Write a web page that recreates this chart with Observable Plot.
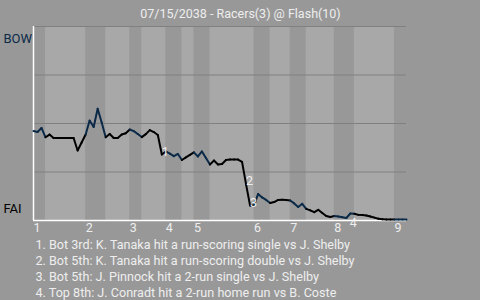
<!DOCTYPE html>
<html>
<head>
<meta charset="utf-8">
<script src="https://cdn.jsdelivr.net/npm/d3@7"></script>
<script src="https://cdn.jsdelivr.net/npm/@observablehq/plot@0.6"></script>
<style>
  html, body { margin: 0; padding: 0; background: #989898; }
  #chart { width: 480px; height: 300px; overflow: hidden; }
</style>
</head>
<body>
<div id="chart"></div>
<script>
// ---- Data ----
const title = "07/15/2038 - Racers(3) @ Flash(10)";
const awayCode = "BOW";
const homeCode = "FAI";
const innings = ["1", "2", "3", "4", "5", "6", "7", "8", "9"];
// plate-appearance index at which each half inning starts (top 1, bot 1, top 2, ...)
const halfStarts = [0, 3, 13, 18, 24, 27, 33, 37, 40, 44, 55, 59, 64, 68, 75, 80, 90];
const lastPA = 93;
// Racers (away) win probability after each plate appearance
const winProb = [
  0.461, 0.456, 0.477, 0.429, 0.443, 0.425, 0.425, 0.425, 0.425, 0.425,
  0.425, 0.361, 0.402, 0.443, 0.515, 0.482, 0.576, 0.505, 0.429, 0.446,
  0.425, 0.425, 0.443, 0.450, 0.469, 0.461, 0.446, 0.430, 0.445, 0.466,
  0.456, 0.441, 0.340, 0.356, 0.345, 0.332, 0.343, 0.312, 0.325, 0.338,
  0.351, 0.330, 0.356, 0.322, 0.289, 0.309, 0.289, 0.291, 0.312, 0.314,
  0.314, 0.314, 0.302, 0.186, 0.077, 0.077, 0.137, 0.119, 0.106, 0.090,
  0.095, 0.106, 0.107, 0.106, 0.103, 0.088, 0.070, 0.086, 0.060, 0.052,
  0.043, 0.055, 0.039, 0.023, 0.018, 0.023, 0.021, 0.017, 0.013, 0.036,
  0.035, 0.029, 0.028, 0.026, 0.021, 0.015, 0.009, 0.006, 0.005, 0.005,
  0.005, 0.005, 0.005, 0.005
];
// key plays: plate-appearance index after the play, and its label number
const keyPA = [32, 53, 54, 79];
const keyNum = ["1", "2", "3", "4"];
const keyText = [
  "1. Bot 3rd: K. Tanaka hit a run-scoring single vs J. Shelby",
  "2. Bot 5th: K. Tanaka hit a run-scoring double vs J. Shelby",
  "3. Bot 5th: J. Pinnock hit a 2-run single vs J. Shelby",
  "4. Top 8th: J. Conradt hit a 2-run home run vs B. Coste"
];
const gridValues = [0.25, 0.5, 0.75, 1];

// ---- Derived tables ----
const navy = "#0b2a48";
const inningStarts = halfStarts.filter((d, i) => i % 2 === 0);
const bottomHalves = [];
for (let h = 1; h < halfStarts.length; h += 2) {
  bottomHalves.push({start: halfStarts[h], end: h + 1 < halfStarts.length ? halfStarts[h + 1] : lastPA});
}
function halfOf(pa) {
  let h = 0;
  for (let k = 0; k < halfStarts.length; k++) if (halfStarts[k] <= pa) h = k;
  return h;
}
const segments = [];
for (let i = 1; i < winProb.length; i++) {
  segments.push({x1: i - 1, y1: winProb[i - 1], x2: i, y2: winProb[i], top: halfOf(i - 1) % 2 === 0});
}
const keys = keyPA.map((pa, i) => ({pa, v: winProb[pa], n: keyNum[i], up: winProb[pa] > winProb[pa - 1]}));

const light = "#eeeeee";
const chart = Plot.plot({
  width: 480,
  height: 300,
  marginLeft: 33,
  marginRight: 74,
  marginTop: 26,
  marginBottom: 80,
  style: {background: "#989898", fontFamily: "Roboto, sans-serif", fontSize: "12px", color: light},
  x: {domain: [0, lastPA], axis: null},
  y: {domain: [0, 1], axis: null},
  marks: [
    Plot.rect(bottomHalves, {x1: "start", x2: "end", y1: 0, y2: 1, fill: "#a8a8a8"}),
    Plot.ruleY(gridValues, {stroke: "#808080", strokeWidth: 1}),
    Plot.ruleY([0], {stroke: "white", strokeWidth: 1.5}),
    Plot.ruleX([0], {stroke: "white", strokeWidth: 1.5}),
    Plot.link(segments, {
      x1: "x1", y1: "y1", x2: "x2", y2: "y2",
      stroke: d => d.top ? navy : "#000000",
      strokeWidth: 2, strokeLinecap: "round", strokeLinejoin: "round"
    }),
    Plot.text(keys.filter(d => !d.up), {x: "pa", y: "v", text: "n", dx: 3.5, dy: -3, fill: light, fontSize: 12.5}),
    Plot.text(keys.filter(d => d.up), {x: "pa", y: "v", text: "n", dx: 3, dy: 9, fill: light, fontSize: 12.5}),
    Plot.axisX({
      ticks: inningStarts,
      tickFormat: d => innings[inningStarts.indexOf(d)],
      tickSize: 0, tickPadding: 3, textAnchor: "start", dx: 0,
      fill: light, fontSize: 12.5
    }),
    Plot.text([title], {text: d => d, frameAnchor: "top", dx: 20.5, dy: -17, fill: light, fontSize: 12.5}),
    Plot.text([awayCode], {text: d => d, frameAnchor: "top-left", textAnchor: "start", dx: -30, dy: 7, fill: navy, fontSize: 13}),
    Plot.text([homeCode], {text: d => d, frameAnchor: "bottom-left", textAnchor: "start", dx: -30, dy: -7.5, fill: "#000000", fontSize: 13}),
    Plot.text([keyText.join("\n")], {
      text: d => d, frameAnchor: "bottom-left", textAnchor: "start", lineAnchor: "top",
      lineHeight: 16 / 12.6, dx: 2, dy: 17.5, fill: light, fontSize: 12.6
    })
  ]
});
document.getElementById("chart").appendChild(chart);
</script>
</body>
</html>
